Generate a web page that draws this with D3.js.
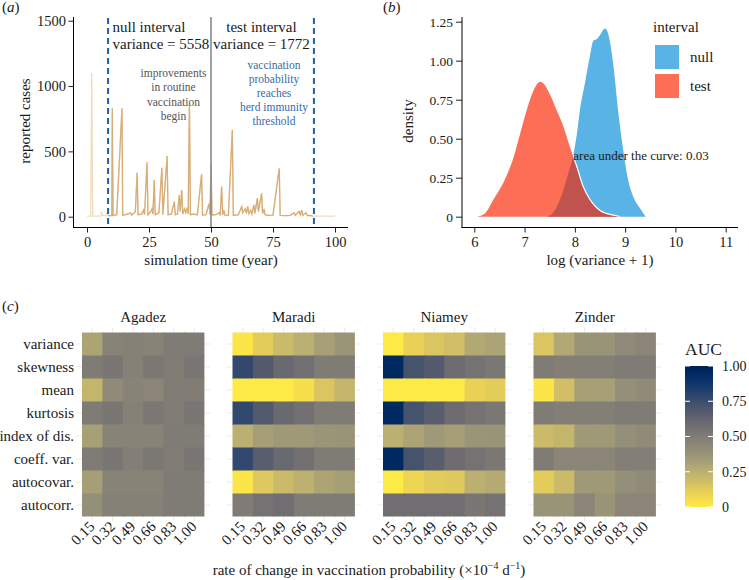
<!DOCTYPE html>
<html><head><meta charset="utf-8">
<script src="https://cdn.jsdelivr.net/npm/d3@7"></script>
<style>body{margin:0;background:#fff} svg{display:block;font-family:"Liberation Serif","Times New Roman",serif}</style>
</head><body><svg id="c" width="749" height="580"></svg>
<script>
// ---------- data: panel (a) ----------
const tsYears=[0,1.5,1.9,2.3,5.5,5.9,6.3,7.5,8.0,8.5,10.0,10.2,10.5,12,14.1,14.4,16,17.5,18,19.5,20.2,20.6,22,22.8,23.2,24.2,24.6,25.8,26.2,26.6,27.1,27.5,29,30.2,30.6,32.3,32.7,34,35.2,35.6,36.5,37.2,37.6,38.2,38.6,39.3,39.8,40.4,40.8,41.3,41.7,43,44.5,46.2,46.6,48,49.2,49.6,50.0,50.4,52,53.3,53.7,54.3,54.7,55.2,55.6,57,58.6,59,61,62.4,62.8,63.8,64.3,64.8,65.3,66,66.5,67.3,67.7,68.7,69.1,70.4,70.8,71.4,71.8,73,75,77.5,77.9,80,82,83.5,84,85.5,86,86.6,87,88.3,88.8,90,91,93,100];
const tsCases=[5,5,1100,5,5,38,8,10,25,8,10,829,10,15,829,12,18,30,12,40,337,15,20,50,15,416,15,40,60,20,281,15,30,375,15,464,15,20,115,15,20,166,40,204,20,60,30,70,20,860,15,20,15,324,12,15,100,15,411,12,15,30,10,230,15,50,12,10,663,10,15,77,30,60,25,80,25,50,20,90,25,143,40,179,25,60,15,10,12,370,10,8,10,30,10,40,15,51,10,30,8,10,5,5,5];
const nullStart=8.5, splitYear=50, testEnd=91.5;
const nullLabel=["null interval","variance = 5558"];
const testLabel=["test interval","variance = 1772"];
const noteGray=["improvements","in routine","vaccination","begin"];
const noteBlue=["vaccination","probability","reaches","herd immunity","threshold"];
const xTicksA=[0,25,50,75,100];
const yTicksA=[0,500,1000,1500];
// ---------- data: panel (b) ----------
const densNullX=[7.45,7.55,7.65,7.77,7.87,7.96,8.04,8.10,8.20,8.30,8.37,8.43,8.50,8.60,8.66,8.72,8.77,8.86,8.96,9.06,9.16,9.30,9.41];
const densNullY=[0,0.02,0.07,0.17,0.28,0.38,0.53,0.68,0.855,1.03,1.13,1.137,1.165,1.207,1.175,1.08,0.96,0.68,0.43,0.235,0.13,0.053,0];
const densTestX=[6.05,6.21,6.38,6.58,6.78,6.91,7.04,7.18,7.31,7.37,7.51,7.64,7.77,7.90,8.04,8.17,8.30,8.50,8.77,8.90];
const densTestY=[0,0.02,0.11,0.22,0.38,0.53,0.68,0.81,0.865,0.855,0.78,0.68,0.58,0.45,0.32,0.19,0.11,0.04,0.01,0];
const intervals=["null","test"];
const aucText="area under the curve: 0.03";
const xTicksB=[6,7,8,9,10,11];
const yTicksB=[0,0.25,0.5,0.75,1,1.25];
// ---------- data: panel (c) ----------
const districts=["Agadez","Maradi","Niamey","Zinder"];
const metrics=["variance","skewness","mean","kurtosis","index of dis.","coeff. var.","autocovar.","autocorr."];
const rates=["0.15","0.32","0.49","0.66","0.83","1.00"];
const aucAgadez=[[0.30,0.46,0.47,0.46,0.50,0.50],[0.50,0.53,0.47,0.52,0.49,0.53],[0.22,0.42,0.46,0.45,0.49,0.49],[0.50,0.53,0.47,0.52,0.49,0.53],[0.32,0.46,0.46,0.46,0.50,0.50],[0.50,0.53,0.48,0.52,0.49,0.53],[0.33,0.46,0.46,0.46,0.50,0.50],[0.40,0.47,0.47,0.47,0.50,0.50]];
const aucMaradi=[[0.02,0.12,0.20,0.25,0.32,0.37],[0.78,0.68,0.60,0.56,0.50,0.50],[0.00,0.00,0.00,0.05,0.15,0.22],[0.78,0.68,0.60,0.56,0.50,0.50],[0.25,0.33,0.35,0.35,0.37,0.38],[0.78,0.66,0.60,0.56,0.50,0.50],[0.02,0.14,0.20,0.24,0.30,0.33],[0.50,0.55,0.57,0.50,0.50,0.50]];
const aucNiamey=[[0.00,0.10,0.15,0.18,0.28,0.30],[0.95,0.72,0.68,0.58,0.55,0.52],[0.00,0.00,0.00,0.00,0.10,0.12],[0.95,0.72,0.66,0.58,0.55,0.52],[0.25,0.30,0.35,0.33,0.37,0.38],[0.95,0.72,0.66,0.58,0.55,0.52],[0.00,0.08,0.12,0.13,0.25,0.27],[0.57,0.57,0.57,0.57,0.53,0.55]];
const aucZinder=[[0.15,0.28,0.38,0.38,0.43,0.45],[0.50,0.48,0.48,0.48,0.50,0.50],[0.02,0.18,0.32,0.32,0.40,0.42],[0.50,0.48,0.48,0.48,0.50,0.50],[0.20,0.22,0.35,0.35,0.40,0.42],[0.50,0.45,0.45,0.45,0.48,0.48],[0.12,0.20,0.35,0.35,0.40,0.42],[0.38,0.38,0.45,0.38,0.45,0.45]];
const aucByDistrict=[aucAgadez,aucMaradi,aucNiamey,aucZinder];
const legendTicks=[0,0.25,0.5,0.75,1];

(function(){
const svg=d3.select("#c");
const defs=svg.append("defs");
const TXT="#1a1a1a";
const SERIF="'Liberation Serif','Times New Roman',serif";
svg.attr("font-family",SERIF);
function styleAxis(g,fs){
  g.attr("font-family",SERIF);
  g.selectAll(".domain").remove();
  g.selectAll(".tick line").attr("stroke","#222").attr("stroke-width",1);
  g.selectAll(".tick text").attr("fill",TXT).attr("font-size",fs).attr("font-family",SERIF);
}
function panelLabel(x,y,letter){
  const t=svg.append("text").attr("x",x).attr("y",y).attr("font-size",15).attr("fill",TXT);
  t.append("tspan").text("(");
  t.append("tspan").attr("font-style","italic").text(letter);
  t.append("tspan").text(")");
}

// ===== Panel (a) =====
const xA=d3.scaleLinear([0,100],[87,335]);
const yA=d3.scaleLinear([0,1500],[216.7,20.7]);
panelLabel(2,12,"a");
const lineA=d3.line().x(d=>xA(d[0])).y(d=>yA(d[1]));
const ts=tsYears.map((t,i)=>[t,tsCases[i]]);
svg.append("path").attr("d",lineA(ts)).attr("fill","none").attr("stroke","#f1dbbd").attr("stroke-width",1.3);
svg.append("path").attr("d",lineA(ts.filter(d=>d[0]>=nullStart&&d[0]<=testEnd)))
  .attr("fill","none").attr("stroke","#d8ae78").attr("stroke-width",1.3);
svg.append("line").attr("x1",xA(splitYear)).attr("x2",xA(splitYear)).attr("y1",17).attr("y2",227)
  .attr("stroke","#8a8a8a").attr("stroke-width",1.6);
[nullStart,testEnd].forEach(v=>svg.append("line").attr("x1",xA(v)).attr("x2",xA(v)).attr("y1",18).attr("y2",226)
  .attr("stroke","#1f5fa6").attr("stroke-width",2).attr("stroke-dasharray","6,4"));
svg.append("g").attr("transform","translate(73.5,0)").call(d3.axisLeft(yA).tickValues(yTicksA).tickFormat(d3.format("d")).tickSize(5).tickPadding(2.5)).call(g=>styleAxis(g,14.5));
svg.append("g").attr("transform","translate(0,227.5)").call(d3.axisBottom(xA).tickValues(xTicksA).tickFormat(d3.format("d")).tickSize(5).tickPadding(4)).call(g=>styleAxis(g,14.5));
svg.append("line").attr("x1",73.5).attr("x2",73.5).attr("y1",17).attr("y2",228).attr("stroke","#000");
svg.append("line").attr("x1",73).attr("x2",348).attr("y1",227.5).attr("y2",227.5).attr("stroke","#000");
svg.append("text").attr("transform","translate(30,121) rotate(-90)").attr("text-anchor","middle").attr("font-size",15).attr("fill",TXT).text("reported cases");
svg.append("text").attr("x",211).attr("y",265).attr("text-anchor","middle").attr("font-size",15).attr("fill",TXT).text("simulation time (year)");
nullLabel.forEach((s,i)=>svg.append("text").attr("x",112.5).attr("y",32+i*17).attr("font-size",15).attr("fill",TXT).text(s));
testLabel.forEach((s,i)=>svg.append("text").attr("x",261.5).attr("y",32+i*17).attr("text-anchor","middle").attr("font-size",15).attr("fill",TXT).text(s));
noteGray.forEach((s,i)=>svg.append("text").attr("x",173.5).attr("y",77+i*14.3).attr("text-anchor","middle").attr("font-size",11.5).attr("fill","#555").text(s));
noteBlue.forEach((s,i)=>svg.append("text").attr("x",274).attr("y",69+i*14).attr("text-anchor","middle").attr("font-size",11.5).attr("fill","#3a6aaa").text(s));

// ===== Panel (b) =====
const xB=d3.scaleLinear([6,11],[474.3,725.7]);
const yB=d3.scaleLinear([0,1.25],[216.7,21.7]);
panelLabel(383,12,"b");
const areaB=d3.area().x(d=>xB(d[0])).y0(yB(0)).y1(d=>yB(d[1])).curve(d3.curveMonotoneX);
const lineB=d3.line().x(d=>xB(d[0])).y(d=>yB(d[1])).curve(d3.curveMonotoneX);
const dNull=densNullX.map((x,i)=>[x,densNullY[i]]);
const dTest=densTestX.map((x,i)=>[x,densTestY[i]]);
const colNull="#59b3e4", colTest="#fc6e56";
defs.append("clipPath").attr("id","clipNull").append("path").attr("d",areaB(dNull));
svg.append("path").attr("d",areaB(dNull)).attr("fill",colNull);
svg.append("path").attr("d",areaB(dTest)).attr("fill",colTest);
svg.append("path").attr("d",areaB(dTest)).attr("fill","#c1534f").attr("clip-path","url(#clipNull)");
svg.append("path").attr("d",lineB(dTest)).attr("fill","none").attr("stroke","#fff").attr("stroke-width",1.2).attr("clip-path","url(#clipNull)");
svg.append("g").attr("transform","translate(462,0)").call(d3.axisLeft(yB).tickValues(yTicksB).tickFormat(d=>d===0?"0":d3.format(".2f")(d)).tickSize(6).tickPadding(3)).call(g=>styleAxis(g,13.5));
svg.append("g").attr("transform","translate(0,227.5)").call(d3.axisBottom(xB).tickValues(xTicksB).tickFormat(d3.format("d")).tickSize(5).tickPadding(4)).call(g=>styleAxis(g,14.5));
svg.append("line").attr("x1",462).attr("x2",462).attr("y1",17).attr("y2",228).attr("stroke","#000");
svg.append("line").attr("x1",461.5).attr("x2",738).attr("y1",227.5).attr("y2",227.5).attr("stroke","#000");
svg.append("text").attr("transform","translate(413,121) rotate(-90)").attr("text-anchor","middle").attr("font-size",15).attr("fill",TXT).text("density");
svg.append("text").attr("x",600).attr("y",265).attr("text-anchor","middle").attr("font-size",15).attr("fill",TXT).text("log (variance + 1)");
svg.append("text").attr("x",xB(7.97)).attr("y",160).attr("font-size",13).attr("fill",TXT).text(aucText);
svg.append("text").attr("x",653).attr("y",32).attr("font-size",15).attr("fill",TXT).text("interval");
intervals.forEach((s,i)=>{
  svg.append("rect").attr("x",655).attr("y",45+i*29).attr("width",24).attr("height",24).attr("fill",i?colTest:colNull);
  svg.append("text").attr("x",690).attr("y",62+i*29).attr("font-size",15).attr("fill",TXT).text(s);
});

// ===== Panel (c) =====
panelLabel(2,311,"c");
const color=v=>d3.interpolateCividis(1-v);
const topC=332.5, cellH=23, facetW=122.4, facetStep=150.5, left0=82;
const yC=d3.scaleBand().domain(metrics).range([topC,topC+cellH*metrics.length]);
districts.forEach((dname,k)=>{
  const x0=left0+k*facetStep;
  const xC=d3.scaleBand().domain(rates).range([x0,x0+facetW]);
  const g=svg.append("g");
  rates.forEach(r=>g.append("line").attr("x1",xC(r)+xC.bandwidth()/2).attr("x2",xC(r)+xC.bandwidth()/2).attr("y1",topC-5).attr("y2",yC.range()[1]+5).attr("stroke","#ebebeb"));
  metrics.forEach(m=>g.append("line").attr("x1",x0-6).attr("x2",x0+facetW+6).attr("y1",yC(m)+cellH/2).attr("y2",yC(m)+cellH/2).attr("stroke","#ebebeb"));
  const vals=aucByDistrict[k];
  metrics.forEach((m,i)=>rates.forEach((r,j)=>{
    const last=j===rates.length-1, lastRow=i===metrics.length-1;
    g.append("rect").attr("x",xC(r)).attr("y",yC(m))
      .attr("width",xC.bandwidth()+(last?0:1)).attr("height",cellH+(lastRow?0:1)).attr("fill",color(vals[i][j]));
  }));
  g.append("text").attr("x",x0+facetW/2).attr("y",322).attr("text-anchor","middle").attr("font-size",15).attr("fill",TXT).text(dname);
  rates.forEach(r=>g.append("text").attr("transform",`translate(${xC(r)+xC.bandwidth()/2-4},520) rotate(-45)`)
    .attr("text-anchor","end").attr("dy","0.7em").attr("font-size",15).attr("fill",TXT).text(r));
});
metrics.forEach(m=>svg.append("text").attr("x",74).attr("y",yC(m)+cellH/2).attr("dy","0.35em").attr("text-anchor","end").attr("font-size",15).attr("fill",TXT).text(m));
const xt=svg.append("text").attr("x",369).attr("y",575).attr("text-anchor","middle").attr("font-size",15).attr("fill",TXT);
xt.append("tspan").text("rate of change in vaccination probability (\u00d710");
xt.append("tspan").attr("font-size",10).attr("dy",-6).text("\u22124");
xt.append("tspan").attr("dy",6).text(" d");
xt.append("tspan").attr("font-size",10).attr("dy",-6).text("\u22121");
xt.append("tspan").attr("dy",6).text(")");
const yL=d3.scaleLinear([0,1],[507,366]);
const grad=defs.append("linearGradient").attr("id","gradAUC").attr("x1",0).attr("x2",0).attr("y1",1).attr("y2",0);
d3.range(0,1.0001,0.05).forEach(t=>grad.append("stop").attr("offset",t).attr("stop-color",color(t)));
svg.append("rect").attr("x",685).attr("y",yL(1)).attr("width",28).attr("height",yL(0)-yL(1)).attr("fill","url(#gradAUC)");
legendTicks.forEach(t=>{
  svg.append("line").attr("x1",685).attr("x2",690).attr("y1",yL(t)).attr("y2",yL(t)).attr("stroke","#fff").attr("stroke-width",1);
  svg.append("line").attr("x1",708).attr("x2",713).attr("y1",yL(t)).attr("y2",yL(t)).attr("stroke","#fff").attr("stroke-width",1);
  svg.append("text").attr("x",722).attr("y",yL(t)).attr("dy","0.35em").attr("font-size",14).attr("fill",TXT).text(t===0?"0":d3.format(".2f")(t));
});
svg.append("text").attr("x",685).attr("y",355).attr("font-size",17.5).attr("fill",TXT).text("AUC");
})();
</script></body></html>
